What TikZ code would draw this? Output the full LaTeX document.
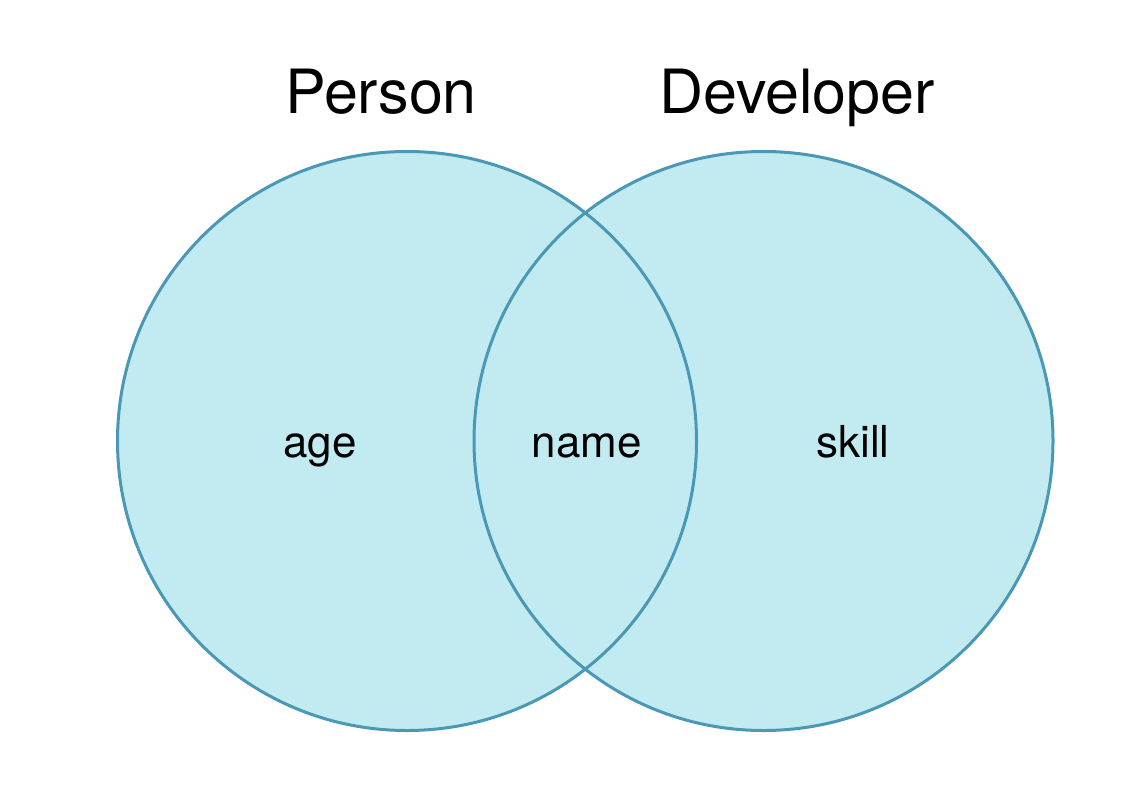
\documentclass[tikz,border=0pt]{standalone}
\usepackage{fontspec}
\setmainfont{TeX Gyre Heros}
\definecolor{vfill}{HTML}{C2EBF1}
\definecolor{vline}{HTML}{4A97B6}
\begin{document}
\begin{tikzpicture}[x=1pt,y=-1pt,
  setfill/.style={fill=vfill},
  setline/.style={draw=vline,line width=3pt},
  title/.style={anchor=base,inner sep=0pt,font=\fontsize{61}{70}\selectfont},
  item/.style={anchor=base,inner sep=0pt,font=\fontsize{44}{52}\selectfont}]
\useasboundingbox (0,0) rectangle (1142,790);
\fill[white] (0,0) rectangle (1142,790);
\coordinate (cp) at (407,441);
\coordinate (cd) at (763.5,441);
\fill[setfill] (cp) circle (289.5);
\fill[setfill] (cd) circle (289.5);
\draw[setline] (cp) circle (289.5);
\draw[setline] (cd) circle (289.5);
\node[title] (person) at (381,113) {Person};
\node[title] (developer) at (797,113) {Developer};
\node[item] (age) at (320,457) {age};
\node[item] (name) at (587,457) {name};
\node[item] (skill) at (853,457) {skill};
\end{tikzpicture}
\end{document}
